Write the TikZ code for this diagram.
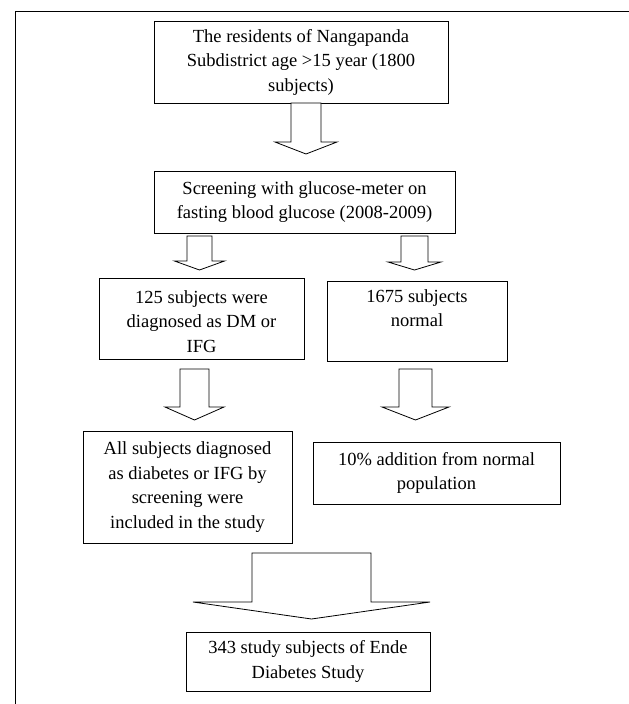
\documentclass[tikz,border=0pt]{standalone}
\usepackage{fontspec}
\setmainfont{Liberation Serif}
\newcommand\blkarrow[6]{% cx, top, shaft half width, head base, head half width, tip
  \draw[blk] ({#1-#3},#2) -- ({#1+#3},#2) -- ({#1+#3},#4) -- ({#1+#5},#4) -- (#1,#6)
    -- ({#1-#5},#4) -- ({#1-#3},#4) -- cycle;}
\begin{document}
\begin{tikzpicture}[x=1pt,y=-1pt,
  box/.style={draw=black, line width=0.8pt, fill=white, inner sep=0pt, align=center,
    font=\fontsize{18.5}{24.5}\selectfont},
  blk/.style={draw=black, line width=0.8pt, fill=white, line join=miter}]
\useasboundingbox (0,0) rectangle (629,704);
\draw[line width=1pt] (629,11) -- (15,11) -- (15,704);

\node[box, minimum width=294pt, minimum height=82pt] (b1) at (301,62)
  {The residents of Nangapanda\\Subdistrict age >15 year (1800\\subjects)};
\node[box, minimum width=301pt, minimum height=62pt] (b2) at (304.5,202)
  {Screening with glucose-meter on\\fasting blood glucose (2008-2009)};
\node[box, minimum width=205pt, minimum height=81pt] (b3) at (201.5,318.5)
  {\rule{0pt}{19pt}125 subjects were\\diagnosed as DM or\\IFG};
\node[box, minimum width=180pt, minimum height=80pt] (b4) at (417,321)
  {\rule{0pt}{19pt}1675 subjects\\normal\\\strut};
\node[box, minimum width=209pt, minimum height=112pt] (b5) at (187.5,487)
  {All subjects diagnosed\\as diabetes or IFG by\\screening were\\included in the study};
\node[box, minimum width=247pt, minimum height=62pt] (b6) at (436.5,473)
  {10\% addition from normal\\population};
\node[box, minimum width=244pt, minimum height=59pt] (b7) at (308,661.5)
  {343 study subjects of Ende\\Diabetes Study};

\blkarrow{306}{103}{15}{142}{31}{154}
\blkarrow{199.5}{236}{12.5}{261}{25}{270}
\blkarrow{414.5}{236}{13.5}{262}{26.5}{270}
\blkarrow{194.5}{369}{14.5}{407}{29.5}{420}
\blkarrow{415.5}{369}{16.5}{407}{33.5}{420}
\blkarrow{311.5}{553}{59.5}{602}{118.5}{619}
\end{tikzpicture}
\end{document}
